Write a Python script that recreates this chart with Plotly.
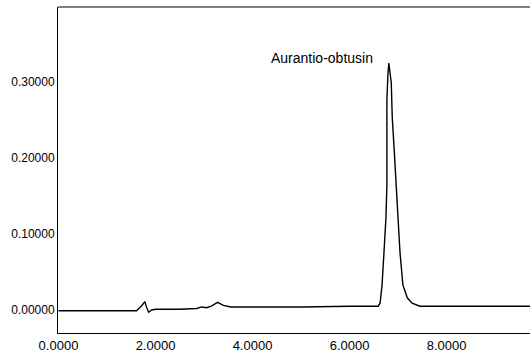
import plotly.graph_objects as go

# Retention time (min) and absorbance
time_min = [0.00, 0.50, 1.00, 1.61, 1.72, 1.78, 1.82, 1.86, 1.92, 2.00, 2.50, 2.85, 2.95,
            3.05, 3.15, 3.28, 3.40, 3.55, 3.70, 4.00, 5.00, 6.00, 6.50, 6.59, 6.63,
            6.67, 6.71, 6.75, 6.77, 6.77, 6.77, 6.79, 6.81, 6.86, 6.88, 6.92, 6.96,
            7.00, 7.04, 7.10, 7.19, 7.29, 7.45, 8.00, 8.50, 9.00, 9.72]
absorbance = [-0.001, -0.001, -0.001, -0.001, 0.006, 0.011, 0.003, -0.003, 0.000, 0.001,
              0.001, 0.002, 0.004, 0.003, 0.005, 0.010, 0.006, 0.004, 0.004, 0.004,
              0.004, 0.005, 0.005, 0.005, 0.009, 0.033, 0.076, 0.121, 0.164, 0.211,
              0.276, 0.309, 0.325, 0.299, 0.254, 0.211, 0.167, 0.121, 0.076, 0.033,
              0.016, 0.009, 0.005, 0.005, 0.005, 0.005, 0.005]

x_ticks = [0, 2, 4, 6, 8]
x_tick_labels = ["0.0000", "2.0000", "4.0000", "6.0000", "8.0000"]
y_ticks = [0.0, 0.1, 0.2, 0.3]
y_tick_labels = ["0.00000", "0.10000", "0.20000", "0.30000"]

peak_label = "Aurantio-obtusin"
peak_label_pos = (5.43, 0.332)

fig = go.Figure()
fig.add_trace(go.Scatter(x=time_min, y=absorbance, mode="lines",
                         line=dict(color="black", width=1.4), showlegend=False,
                         hoverinfo="skip"))

fig.add_annotation(x=peak_label_pos[0], y=peak_label_pos[1], text=peak_label,
                   showarrow=False, font=dict(family="Liberation Sans, Arial", size=14, color="black"))

# top border
fig.add_shape(type="line", xref="paper", yref="paper", x0=0, x1=1, y0=1, y1=1,
              line=dict(color="black", width=1.2))

fig.update_layout(
    width=530, height=353,
    margin=dict(l=58, r=0, t=7, b=20),
    paper_bgcolor="white", plot_bgcolor="white",
    font=dict(family="Liberation Sans, Arial", color="black"),
    xaxis=dict(range=[-0.01, 9.72], tickvals=x_ticks, ticktext=x_tick_labels,
               showgrid=False, zeroline=False, showline=True, linecolor="black",
               linewidth=1.2, ticks="", tickfont=dict(size=13)),
    yaxis=dict(range=[-0.0303, 0.3987], tickvals=y_ticks, ticktext=y_tick_labels,
               showgrid=False, zeroline=False, showline=True, linecolor="black",
               linewidth=1, ticks="", tickfont=dict(size=12)),
)

fig.write_html("out.html", config={"displayModeBar": False},
               post_script="document.body.style.margin='0';document.body.style.overflow='hidden';")
